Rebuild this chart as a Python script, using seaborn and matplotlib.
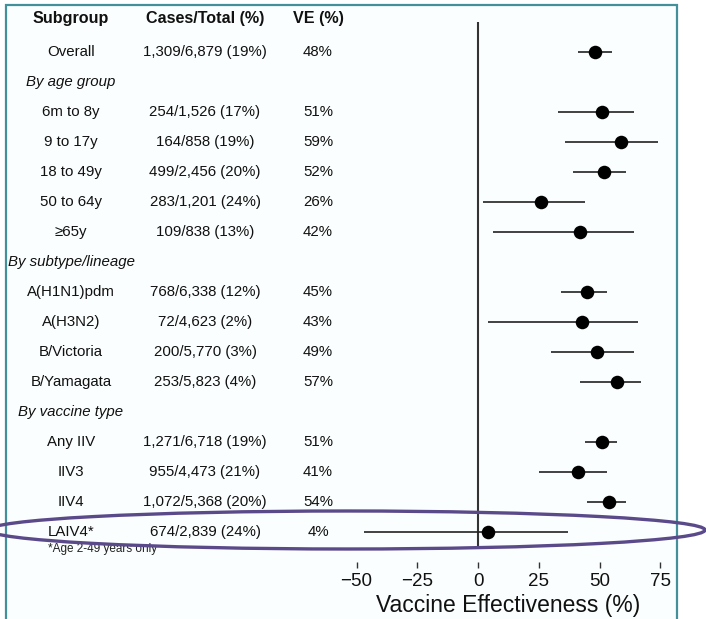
import numpy as np
import pandas as pd
import matplotlib
matplotlib.use("Agg")
import matplotlib.pyplot as plt
import seaborn as sns
from matplotlib.patches import Ellipse, Rectangle
from matplotlib.transforms import blended_transform_factory

# ---------------- data ----------------
subgroups = ["Overall", "By age group", "6m to 8y", "9 to 17y", "18 to 49y", "50 to 64y", "≥65y",
             "By subtype/lineage", "A(H1N1)pdm", "A(H3N2)", "B/Victoria", "B/Yamagata",
             "By vaccine type", "Any IIV", "IIV3", "IIV4", "LAIV4*"]
is_section = [False, True, False, False, False, False, False,
              True, False, False, False, False,
              True, False, False, False, False]
cases_total = ["1,309/6,879 (19%)", "", "254/1,526 (17%)", "164/858 (19%)", "499/2,456 (20%)",
               "283/1,201 (24%)", "109/838 (13%)", "", "768/6,338 (12%)", "72/4,623 (2%)",
               "200/5,770 (3%)", "253/5,823 (4%)", "", "1,271/6,718 (19%)", "955/4,473 (21%)",
               "1,072/5,368 (20%)", "674/2,839 (24%)"]
ve_text = ["48%", "", "51%", "59%", "52%", "26%", "42%", "", "45%", "43%", "49%", "57%",
           "", "51%", "41%", "54%", "4%"]
ve = [48, np.nan, 51, 59, 52, 26, 42, np.nan, 45, 43, 49, 57, np.nan, 51, 41, 54, 4]
ci_low = [41, np.nan, 33, 36, 39, 2, 6, np.nan, 34, 4, 30, 42, np.nan, 44, 25, 45, -47]
ci_high = [55, np.nan, 64, 74, 61, 44, 64, np.nan, 53, 66, 64, 67, np.nan, 57, 53, 61, 37]
x_ticks = [-50, -25, 0, 25, 50, 75]
x_label = "Vaccine Effectiveness (%)"
footnote = "*Age 2-49 years only"
col_headers = ["Subgroup", "Cases/Total (%)", "VE (%)"]

df = pd.DataFrame({"subgroup": subgroups, "ve": ve, "lo": ci_low, "hi": ci_high,
                   "row": np.arange(len(subgroups))})
est = df.dropna()

# ---------------- style ----------------
sns.set_theme(style="white")
plt.rcParams["font.family"] = ["Liberation Sans", "DejaVu Sans"]

W, H = 706, 619
fig = plt.figure(figsize=(W / 100, H / 100), dpi=100, facecolor="white")

def fx(px):
    return px / W

def fy(py):
    return 1 - py / H

# axes: left px 340 .. right px 676, top px 0 .. bottom px 562
ax = fig.add_axes([fx(340), fy(562), fx(676) - fx(340), fy(0) - fy(562)])
ax.patch.set_alpha(0)
x0_px, ppu = 478.0, 2.43
ax.set_xlim((340 - x0_px) / ppu, (676 - x0_px) / ppu)
row0_px, row_h = 52.0, 30.0
ax.set_ylim((562 - row0_px) / row_h, (0 - row0_px) / row_h)

# reference line at 0
ax.vlines(0, (22 - row0_px) / row_h, (548 - row0_px) / row_h, color="#333333", lw=1.5, zorder=1)
# confidence intervals
ax.hlines(est["row"], est["lo"], est["hi"], color="#222222", lw=1.2, zorder=2)
# point estimates
sns.scatterplot(data=est, x="ve", y="row", ax=ax, color="black", s=95,
                edgecolor="black", linewidth=0, zorder=3, legend=False)

for s in ax.spines.values():
    s.set_visible(False)
ax.set_yticks([])
ax.set_ylabel("")
ax.set_xticks(x_ticks)
ax.set_xticklabels([f"\u2212{abs(t)}" if t < 0 else str(t) for t in x_ticks])
ax.tick_params(axis="x", bottom=True, length=4, width=1, color="#333333", direction="out",
               pad=4, labelsize=13.5, labelcolor="#111111")
ax.set_xlabel(x_label, fontsize=16.5, color="#111111", labelpad=3)

# ---------------- table text ----------------
tr = blended_transform_factory(fig.transFigure, ax.transData)
col_x = [71, 205, 318]
fs = 10.8
hdr_y = (18 - row0_px) / row_h
for cx, h in zip(col_x, col_headers):
    ax.text(fx(cx), hdr_y, h, transform=tr, ha="center", va="center",
            fontsize=11.6, fontweight="bold", color="#111111", clip_on=False)

for i, (sg, sec, ct, vt) in enumerate(zip(subgroups, is_section, cases_total, ve_text)):
    if sec:
        ax.text(fx(col_x[0]), i, sg, transform=tr, ha="center", va="center",
                fontsize=fs, style="italic", color="#111111", clip_on=False)
    else:
        ax.text(fx(col_x[0]), i, sg, transform=tr, ha="center", va="center",
                fontsize=fs, color="#111111", clip_on=False)
        ax.text(fx(col_x[1]), i, ct, transform=tr, ha="center", va="center",
                fontsize=fs, color="#111111", clip_on=False)
        ax.text(fx(col_x[2]), i, vt, transform=tr, ha="center", va="center",
                fontsize=fs, color="#111111", clip_on=False)

ax.text(fx(48), (549 - row0_px) / row_h, footnote, transform=tr, ha="left", va="center",
        fontsize=8.5, color="#222222", clip_on=False)

# ---------------- frame and highlight ellipse ----------------
fig.add_artist(Rectangle((fx(6), fy(640)), fx(677) - fx(6), fy(5) - fy(640),
                         transform=fig.transFigure, facecolor="#fbfefe",
                         edgecolor="#43909b", lw=1.6, zorder=-1))
fig.add_artist(Ellipse((fx(347), fy(530)), fx(716), 38 / H, transform=fig.transFigure,
                       fill=False, edgecolor="#5b4a8a", lw=2.4, zorder=10))

fig.savefig("out.png", dpi=100, facecolor="white")
